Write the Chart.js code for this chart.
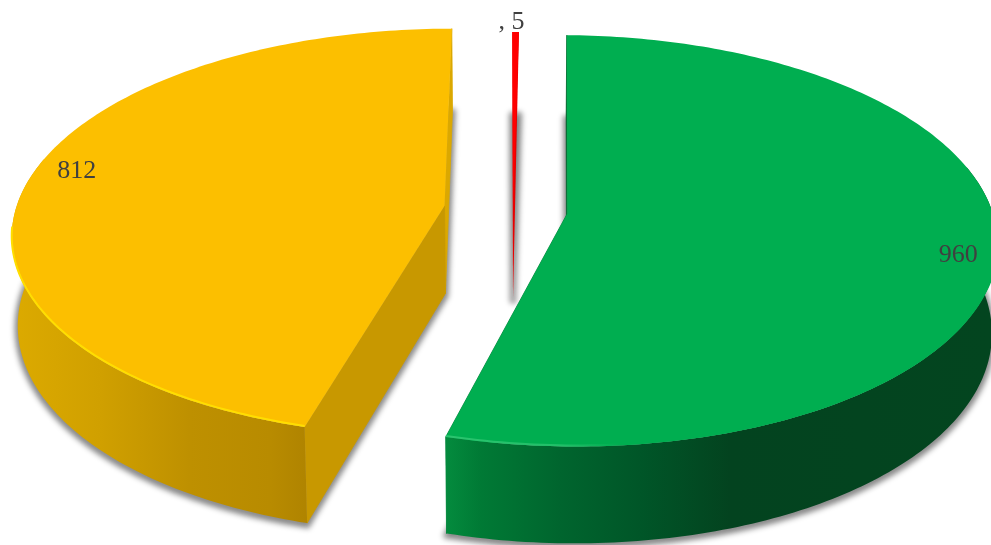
<!DOCTYPE html>
<html>
<head>
<meta charset="utf-8">
<style>html,body{margin:0;padding:0;background:#fff}canvas{display:block}</style>
<script src="https://cdn.jsdelivr.net/npm/chart.js@4"></script>
</head>
<body>
<canvas id="c" width="991" height="545"></canvas>
<script>
const categories = ['A', 'B', 'C'];
const values = [960, 812, 5];
const labelPrefix = ['', '', ', '];
const topColors = ['#00AE50', '#FCBF00', '#FF0000'];
const faceColors = ['#00803A', '#C89800', '#E80000'];
const backColors = ['#006B30', '#DBA800', '#E80000'];
const rimStops = [
  [[444, '#048C3E'], [480, '#007A35'], [560, '#00652E'], [640, '#005628'], [730, '#03431F'], [991, '#03451F']],
  [[12, '#DCAA00'], [100, '#D0A000'], [190, '#BE9000'], [270, '#B88B00'], [305, '#B08400']],
  [[500, '#E80000'], [530, '#E80000']]
];
const bevelStops = [
  [[444, '#2BC46F'], [560, '#22C068'], [620, '#00AE50'], [991, '#00AE50']],
  [[12, '#FFDE00'], [305, '#FFDE00']],
  [[500, '#FF0000'], [530, '#FF0000']]
];
const sliceOffsets = [105, 133, 0];
const sliceScaleX = [0.99, 1, 1];
const sliceScaleY = [0.998, 1, 1];
const labelFraction = [0.91, 0.91, 1];
const labelNudge = [[-4, 15], [11, -11], [-4, -10]];

// camera
const VX = 513, VY = 210, SX = 429, SY = 201.5, PERSP = 0.132, DEPTH = 88, SHRINK_X = 0.012, SHRINK_Y = 0.02;

function project(u, v, bottom) {
  const w = 1 - PERSP * v;
  return [VX + SX * u / w * (bottom ? 1 - SHRINK_X : 1),
          VY + SY * v / w * (bottom ? 1 - SHRINK_Y : 1) + (bottom ? DEPTH / w : 0)];
}
function arcPts(el, i, bottom, front) {
  const R = el.outerRadius, off = el.options.offset / 4 / R;
  const mid = (el.startAngle + el.endAngle) / 2;
  const cu = off * Math.cos(mid), cv = off * Math.sin(mid);
  const a0 = el.startAngle, a1 = el.endAngle;
  const n = Math.max(2, Math.ceil((a1 - a0) * 60)), pts = [];
  for (let k = 0; k <= n; k++) {
    const a = a0 + (a1 - a0) * k / n;
    if (front !== undefined && Math.sin(a) < front) continue;
    pts.push(project(cu + sliceScaleX[i] * Math.cos(a), cv + sliceScaleY[i] * Math.sin(a), bottom));
  }
  return {pts, apex: project(cu, cv, bottom), cu, cv};
}
function poly(ctx, pts) {
  ctx.beginPath();
  pts.forEach((p, i) => i ? ctx.lineTo(p[0], p[1]) : ctx.moveTo(p[0], p[1]));
  ctx.closePath();
}
function xGradient(ctx, stops) {
  const x0 = stops[0][0], x1 = stops[stops.length - 1][0];
  const g = ctx.createLinearGradient(x0, 0, x1, 0);
  stops.forEach(s => g.addColorStop((s[0] - x0) / (x1 - x0), s[1]));
  return g;
}
const pie3d = {
  id: 'pie3d',
  beforeDatasetsDraw(chart) {
    const ctx = chart.ctx, arcs = chart.getDatasetMeta(0).data;
    // soft shadow of the underside
    ctx.save();
    ctx.filter = 'blur(2.5px)';
    ctx.fillStyle = ctx.strokeStyle = 'rgba(0,0,0,0.32)';
    ctx.lineWidth = 8;
    ctx.lineJoin = 'round';
    arcs.forEach((el, i) => {
      const b = arcPts(el, i, true);
      const s = b.pts.concat([b.apex]).map(p => [p[0], p[1] + 2]);
      poly(ctx, s); ctx.fill(); ctx.stroke();
    });
    ctx.restore();
    // back to front
    [1, 2, 0].forEach(i => {
      const el = arcs[i], t = arcPts(el, i, false), b = arcPts(el, i, true);
      const t0 = t.pts[0], t1 = t.pts[t.pts.length - 1], b0 = b.pts[0], b1 = b.pts[b.pts.length - 1];
      const back = i === 0 ? [t0, b0] : [t1, b1];
      const front = i === 0 ? [t1, b1] : [t0, b0];
      ctx.lineWidth = 0.8;
      if (i === 2) {
        // the thin slice: its walls taper down to the underside apex
        ctx.fillStyle = ctx.strokeStyle = faceColors[i];
        poly(ctx, [t0, t1, b.apex]); ctx.fill();
      } else {
        ctx.fillStyle = ctx.strokeStyle = backColors[i];
        poly(ctx, [t.apex, back[0], back[1], b.apex]); ctx.fill(); ctx.stroke();
        ctx.fillStyle = ctx.strokeStyle = faceColors[i];
        poly(ctx, [t.apex, front[0], front[1], b.apex]); ctx.fill(); ctx.stroke();
        const tf = arcPts(el, i, false, -0.25), bf = arcPts(el, i, true, -0.25);
        ctx.fillStyle = xGradient(ctx, rimStops[i]);
        poly(ctx, tf.pts.concat(bf.pts.slice().reverse())); ctx.fill();
      }
      ctx.fillStyle = topColors[i];
      poly(ctx, t.pts.concat([t.apex])); ctx.fill();
      if (i !== 2) {
        // bright bevel on the near part of the rim
        const near = arcPts(el, i, false, 0.1).pts.map(p => [p[0], p[1] - 1]);
        ctx.strokeStyle = xGradient(ctx, bevelStops[i]);
        ctx.lineWidth = 2;
        ctx.beginPath();
        near.forEach((p, k) => k ? ctx.lineTo(p[0], p[1]) : ctx.moveTo(p[0], p[1]));
        ctx.stroke();
      }
    });
    // labels
    ctx.font = '26px "Liberation Serif"';
    ctx.fillStyle = '#404040';
    ctx.textAlign = 'center';
    ctx.textBaseline = 'middle';
    arcs.forEach((el, i) => {
      const R = el.outerRadius, off = el.options.offset / 4 / R;
      const mid = (el.startAngle + el.endAngle) / 2, f = labelFraction[i];
      const p = project((off + f) * Math.cos(mid), (off + f) * Math.sin(mid), false);
      ctx.fillText(labelPrefix[i] + values[i], p[0] + labelNudge[i][0], p[1] + labelNudge[i][1]);
    });
    return false;
  }
};
new Chart(document.getElementById('c'), {
  type: 'pie',
  data: {
    labels: categories,
    datasets: [{data: values, backgroundColor: topColors, offset: sliceOffsets, borderWidth: 0}]
  },
  options: {
    responsive: false,
    animation: false,
    rotation: 0.9,
    layout: {padding: 0},
    plugins: {legend: {display: false}, tooltip: {enabled: false}}
  },
  plugins: [pie3d]
});
</script>
</body>
</html>
